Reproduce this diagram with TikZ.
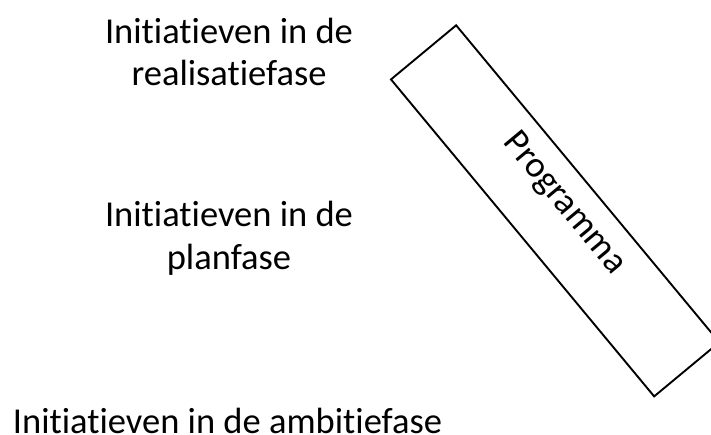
\documentclass[tikz,border=0pt]{standalone}
\usepackage{fontspec}
\setmainfont{Carlito}[RawFeature={-liga;-clig;-calt}]
\begin{document}
\begin{tikzpicture}[x=1pt,y=1pt,
  lbl/.style={font=\fontsize{36.5pt}{42pt}\selectfont, align=center, inner sep=0pt, anchor=base},
  prog/.style={draw, line width=1.9pt, rotate=-50.3, minimum width=412pt, minimum height=84.7pt,
    inner sep=0pt, text height=20pt, text depth=25.7pt, font=\fontsize{36.5pt}{42pt}\selectfont}]
\useasboundingbox (0,0) rectangle (711,434);
\clip (0,0) rectangle (711,434);
\node[lbl] (real) at (229,348.5) {Initiatieven in de\\realisatiefase};
\node[lbl] (plan) at (229,165) {Initiatieven in de\\planfase};
\node[lbl] (amb) at (227.5,1) {Initiatieven in de ambitiefase};
\node[prog] (programma) at (555.15,223.15) {Programma};
\end{tikzpicture}
\end{document}
